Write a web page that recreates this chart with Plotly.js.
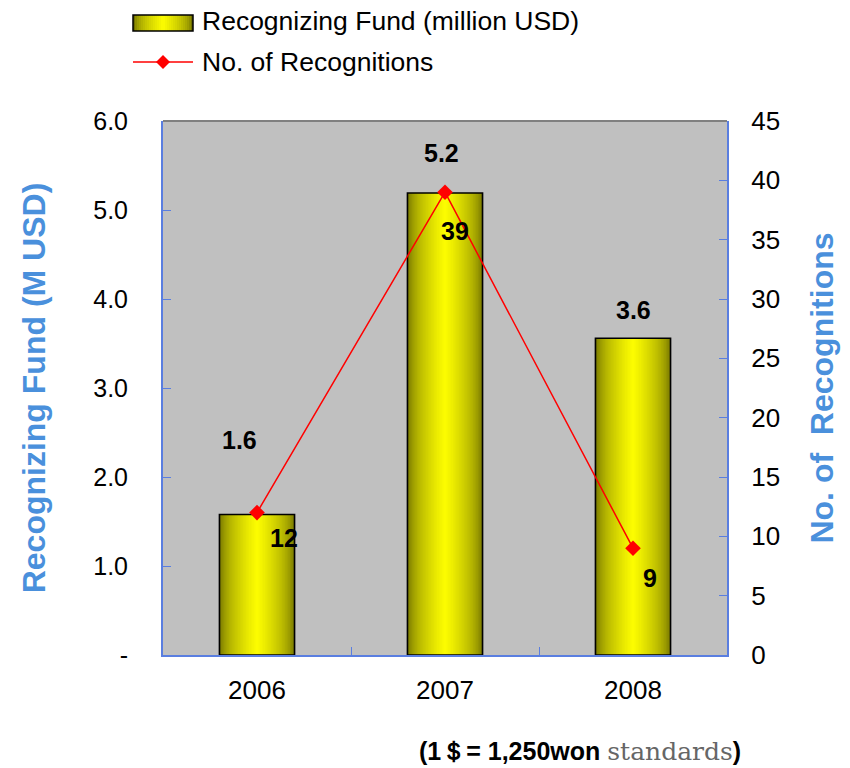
<!DOCTYPE html>
<html>
<head>
<meta charset="utf-8">
<script src="https://cdn.plot.ly/plotly-3.0.1.min.js"></script>
<style>html,body{margin:0;padding:0;background:#fff;}#chart{width:850px;height:768px;}</style>
</head>
<body>
<div id="chart"></div>
<script>
// ---- data ----
const years = ['2006', '2007', '2008'];
const fundValues = [1.58, 5.19, 3.56];          // million USD
const fundLabels = ['1.6', '5.2', '3.6'];
const recognitions = [12, 39, 9];
const recognitionLabels = ['12', '39', '9'];
const leftTickVals = [0, 1, 2, 3, 4, 5, 6];
const leftTickText = ['-', '1.0', '2.0', '3.0', '4.0', '5.0', '6.0'];
const rightTickVals = [0, 5, 10, 15, 20, 25, 30, 35, 40, 45];

// ---- style ----
const FONT = 'Arial, "Liberation Sans", sans-serif';
const AXIS_BLUE = '#5a7ee0';
const TITLE_BLUE = '#4a90dc';
const BAR_WIDTH = 0.4;
const LAYERS = 24;
const fundLabelShift = [[-18, 74], [-4, 40], [0, 28]];
const recLabelShift = [[27, -25], [10, -39], [17, -30]];

function gradColor(t) {
  // t: 0 at bar edge, 1 at bar centre
  const s = Math.pow(t, 0.55);
  const dark = [110, 110, 0], bright = [255, 255, 0];
  const c = dark.map((d, i) => Math.round(d + (bright[i] - d) * s));
  return 'rgb(' + c.join(',') + ')';
}

const traces = [];
for (let k = 0; k < LAYERS; k++) {
  const t = k / LAYERS;
  traces.push({
    type: 'bar', x: years, y: fundValues,
    width: BAR_WIDTH * (1 - t),
    marker: {color: gradColor(t), line: {width: 0}},
    hoverinfo: 'skip', showlegend: false, yaxis: 'y'
  });
}
// black outline on top
traces.push({
  type: 'bar', x: years, y: fundValues, width: BAR_WIDTH,
  marker: {color: 'rgba(0,0,0,0)', line: {width: 1.5, color: '#000'}},
  name: 'Recognizing Fund (million USD)', showlegend: false, yaxis: 'y'
});
traces.push({
  type: 'scatter', mode: 'lines+markers', x: years, y: recognitions,
  yaxis: 'y2', name: 'No. of Recognitions', showlegend: false,
  line: {color: '#ff0000', width: 1.5},
  marker: {symbol: 'diamond', size: 12, color: '#ff0000'}
});

const annotations = [];
years.forEach((yr, i) => {
  annotations.push({
    x: i, y: fundValues[i], xref: 'x', yref: 'y', text: '<b>' + fundLabels[i] + '</b>',
    showarrow: false, xshift: fundLabelShift[i][0], yshift: fundLabelShift[i][1],
    font: {family: FONT, size: 25, color: '#000'}
  });
  annotations.push({
    x: i, y: recognitions[i], xref: 'x', yref: 'y2', text: '<b>' + recognitionLabels[i] + '</b>',
    showarrow: false, xshift: recLabelShift[i][0], yshift: recLabelShift[i][1],
    font: {family: FONT, size: 25, color: '#000'}
  });
});

// custom legend (paper coords: plot area 163..727 px wide, 121..655 px tall)
const px = v => (v - 163) / 564;
const py = v => (655 - v) / 534;
const shapes = [];
const LEG_L = 133, LEG_R = 193;
const legSteps = 15;
for (let k = 0; k < legSteps; k++) {
  const t = k / legSteps;
  const half = (LEG_R - LEG_L) / 2 * (1 - t);
  const c = (LEG_L + LEG_R) / 2;
  shapes.push({type: 'rect', xref: 'paper', yref: 'paper',
    x0: px(c - half), x1: px(c + half), y0: py(31), y1: py(15),
    fillcolor: gradColor(t), line: {width: 0}, layer: 'above'});
}
shapes.push({type: 'rect', xref: 'paper', yref: 'paper',
  x0: px(LEG_L), x1: px(LEG_R), y0: py(31), y1: py(15),
  fillcolor: 'rgba(0,0,0,0)', line: {width: 1.5, color: '#000'}, layer: 'above'});
shapes.push({type: 'line', xref: 'paper', yref: 'paper',
  x0: px(LEG_L), x1: px(LEG_R), y0: py(62), y1: py(62),
  line: {width: 1.5, color: '#ff0000'}});
shapes.push({type: 'path', xref: 'paper', yref: 'paper',
  path: `M ${px(163)} ${py(55)} L ${px(170)} ${py(62)} L ${px(163)} ${py(69)} L ${px(156)} ${py(62)} Z`,
  fillcolor: '#ff0000', line: {width: 0}});
// grey top border of plot
shapes.push({type: 'line', xref: 'paper', yref: 'paper', x0: 0, x1: 1, y0: 1, y1: 1,
  line: {width: 2, color: '#808080'}});

annotations.push({xref: 'paper', yref: 'paper', x: px(200), y: py(21), xanchor: 'left', yanchor: 'middle',
  text: 'Recognizing Fund (million USD)', showarrow: false, font: {family: FONT, size: 26.5, color: '#000'}});
annotations.push({xref: 'paper', yref: 'paper', x: px(200), y: py(62), xanchor: 'left', yanchor: 'middle',
  text: 'No. of Recognitions', showarrow: false, font: {family: FONT, size: 26.5, color: '#000'}});
annotations.push({xref: 'paper', yref: 'paper', x: px(580), y: py(752), xanchor: 'center', yanchor: 'middle',
  text: '<b>(1＄= 1,250won</b> <span style="font-family:\'DejaVu Serif\',\'Liberation Serif\',serif;color:#666666;font-weight:normal">standards</span><b>)</b>',
  showarrow: false, font: {family: FONT, size: 25, color: '#000'}});

const layout = {
  width: 850, height: 768,
  margin: {l: 163, r: 123, t: 121, b: 113},
  paper_bgcolor: '#ffffff', plot_bgcolor: '#c0c0c0',
  barmode: 'overlay', showlegend: false,
  font: {family: FONT, size: 24, color: '#000'},
  xaxis: {
    type: 'category', range: [-0.5, 2.5], showgrid: false, showline: true, linecolor: AXIS_BLUE, linewidth: 2,
    ticks: 'inside', tickson: 'boundaries', ticklen: 8, tickcolor: AXIS_BLUE, tickwidth: 1,
    tickfont: {family: FONT, size: 26}, ticklabelstandoff: 11, tickangle: 0
  },
  yaxis: {
    range: [0, 6], tickvals: leftTickVals, ticktext: leftTickText, showgrid: false, zeroline: false,
    showline: true, linecolor: AXIS_BLUE, linewidth: 2, ticks: 'inside', ticklen: 8,
    tickcolor: AXIS_BLUE, tickfont: {family: FONT, size: 25}, ticklabelstandoff: 28,
    title: {text: '<b>Recognizing Fund (M USD)</b>', font: {family: FONT, size: 32, color: TITLE_BLUE}, standoff: 38}
  },
  yaxis2: {
    overlaying: 'y', side: 'right', range: [0, 45], tickvals: rightTickVals, showgrid: false, zeroline: false,
    showline: true, linecolor: AXIS_BLUE, linewidth: 2, ticks: 'inside', ticklen: 8,
    tickcolor: AXIS_BLUE, tickfont: {family: FONT, size: 26}, ticklabelstandoff: 17,
    title: {text: '<b>No. of  Recognitions</b>', font: {family: FONT, size: 32, color: TITLE_BLUE}, standoff: 31}
  },
  shapes: shapes,
  annotations: annotations
};

Plotly.newPlot('chart', traces, layout, {displayModeBar: false, staticPlot: true});
</script>
</body>
</html>
